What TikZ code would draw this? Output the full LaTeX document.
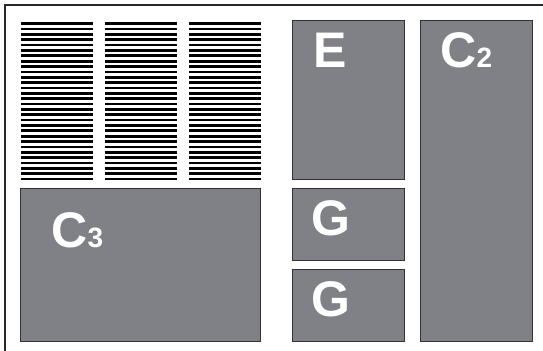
\documentclass[tikz,border=0pt]{standalone}
\usepackage{fontspec}
\setmainfont{Liberation Sans}
\usetikzlibrary{positioning}
\definecolor{panelgray}{RGB}{128,129,134}
\definecolor{edgegray}{RGB}{50,50,54}
\definecolor{framegray}{RGB}{40,40,40}

\begin{document}
\begin{tikzpicture}[
    x=0.5pt, y=-0.5pt,
    panel/.style={draw=edgegray, line width=0.5pt, fill=panelgray, inner sep=0pt, outer sep=0pt, anchor=north west},
    tag/.style={anchor=base west, inner sep=0pt, text=white, font=\fontsize{25}{25}\selectfont\bfseries}]
  \useasboundingbox (0,0) rectangle (543,351);
  % frame (top and left only)
  \draw[framegray, line width=0.75pt] (543,5) -- (5,5) -- (5,351);
  % striped blocks
  \foreach \bx in {21,105,189}
    \foreach \i in {0,...,29}
      \fill[black] (\bx,22.3+\i*5.36) rectangle ++(72.5,2.7);
  % panels
  \node[panel, minimum width=56pt, minimum height=79.5pt] (E) at (293,21) {};
  \node[panel, minimum width=56pt, minimum height=36pt, below=4.5pt of E] (G1) {};
  \node[panel, minimum width=56pt, minimum height=36pt, below=4.5pt of G1] (G2) {};
  \node[panel, minimum width=56pt, minimum height=160.5pt] (C2) at (421,21) {};
  \node[panel, minimum width=120pt, minimum height=76.5pt] (C3) at (21,189) {};
  % labels
  \node[tag] (Etag) at ([shift={(20,47)}]E.north west) {E};
  \node[tag] (G1tag) at ([shift={(18,47)}]G1.north west) {G};
  \node[tag] (G2tag) at ([shift={(18,47)}]G2.north west) {G};
  \node[tag] (C2tag) at ([shift={(19,47)}]C2.north west) {C{\fontsize{14}{14}\selectfont 2}};
  \node[tag] (C3tag) at ([shift={(30,59)}]C3.north west) {C{\fontsize{14}{14}\selectfont 3}};
\end{tikzpicture}
\end{document}
